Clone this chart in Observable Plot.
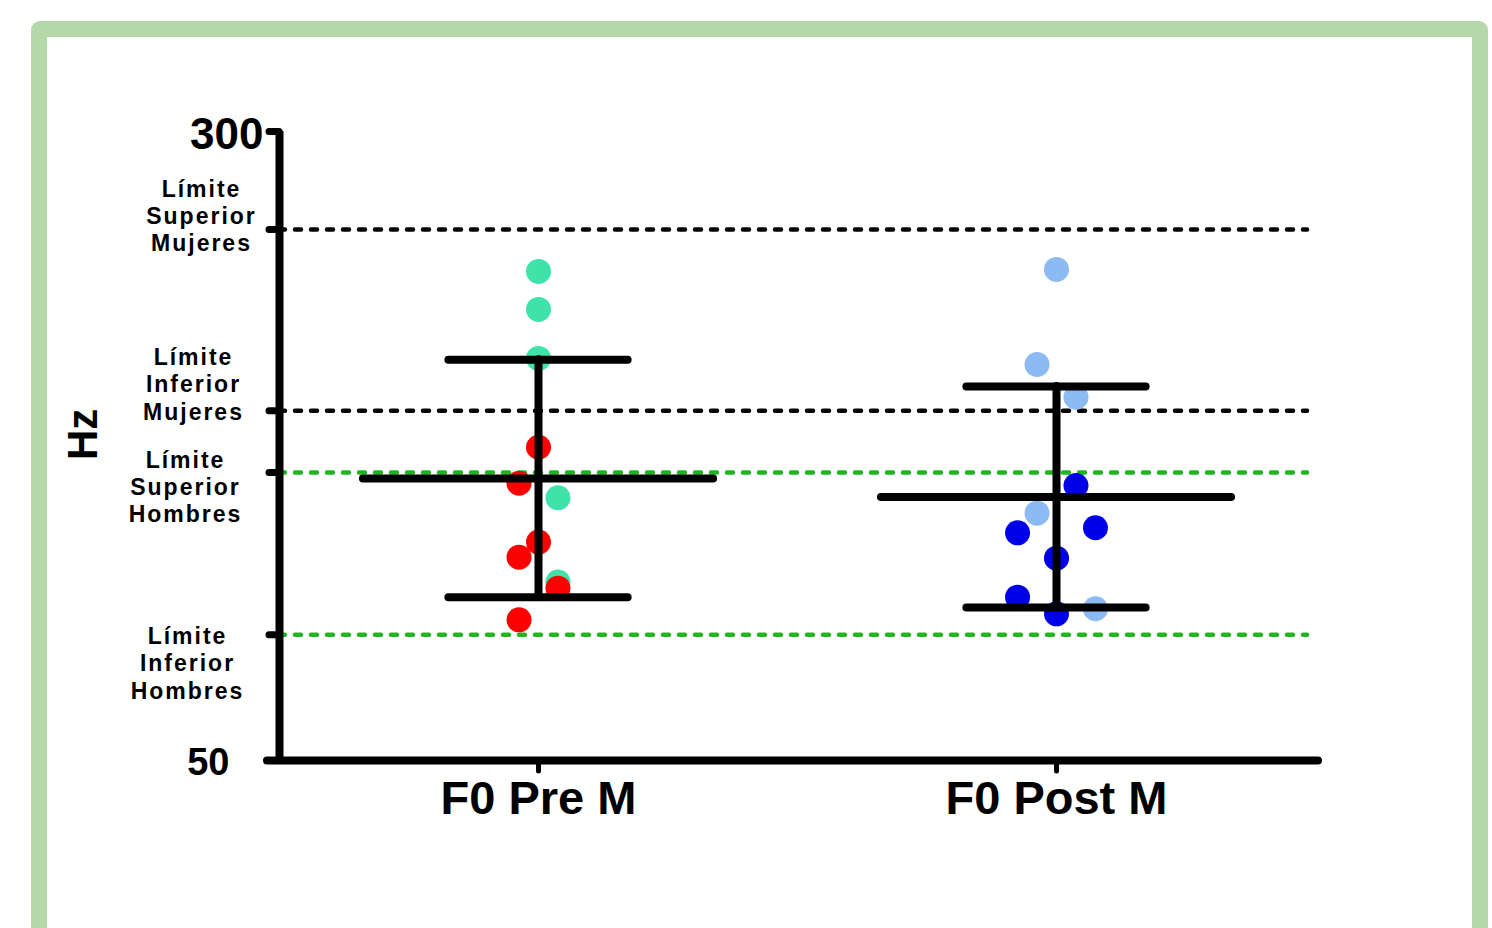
<!DOCTYPE html>
<html>
<head>
<meta charset="utf-8">
<script src="https://cdn.jsdelivr.net/npm/d3@7"></script>
<script src="https://cdn.jsdelivr.net/npm/@observablehq/plot@0.6"></script>
<style>
  html, body { margin: 0; padding: 0; background: #fff; width: 1492px; height: 928px; overflow: hidden; }
  #frame { position: absolute; left: 31px; top: 21px; width: 1457px; height: 1000px; box-sizing: border-box;
           border: 16px solid #b5d8a8; border-radius: 9px; }
  #chart { position: absolute; left: 0; top: 0; }
</style>
</head>
<body>
<div id="frame"></div>
<div id="chart"></div>
<script>
// ---- data ----
const groups = ["F0 Pre M", "F0 Post M"];

// Pre M: light (teal) and dark (red) points, with swarm column index
const preLightHz   = [244.4, 229.3, 209.8, 154.4, 120.9];
const preLightCol  = [0, 0, 0, 1, 1];
const preDarkHz    = [174.5, 160.2, 136.8, 130.8, 118.5, 105.9];
const preDarkCol   = [0, -1, 0, -1, 1, -1];

// Post M: light blue and blue points
const postLightHz  = [245.2, 207.4, 194.4, 148.3, 110.3];
const postLightCol = [0, -1, 1, -1, 2];
const postDarkHz   = [159.3, 142.5, 140.5, 130.4, 114.9, 108.3];
const postDarkCol  = [1, 2, -2, 0, -2, 0];

// mean and SD per group
const means = [162.1, 154.7];
const sds   = [47.2, 43.9];

// reference limits
const limitValues = [261, 189, 164.5, 100];
const limitLabels = ["Límite\nSuperior\nMujeres", "Límite\nInferior\nMujeres", "Límite\nSuperior\nHombres", "Límite\nInferior\nHombres"];
const limitKind   = ["Mujeres", "Mujeres", "Hombres", "Hombres"];

const yTickLabels = [300, 50];

// ---- build tables ----
const seriesColors = {preLight: "#3fe3a9", preDark: "#ff0000", postLight: "#8cbaf2", postDark: "#0000e6"};
const points = [];
function add(vals, cols, g, key) {
  vals.forEach((v, i) => points.push({group: g, hz: v, col: cols[i], key}));
}
add(preLightHz, preLightCol, 1, "preLight");
add(preDarkHz, preDarkCol, 1, "preDark");
add(postLightHz, postLightCol, 2, "postLight");
add(postDarkHz, postDarkCol, 2, "postDark");

const stats = groups.map((g, i) => ({g: i + 1, mean: means[i], sd: sds[i]}));
const limits = limitValues.map((v, i) => ({v, label: limitLabels[i], kind: limitKind[i]}));

const step = 0.0376;      // swarm column spacing (x units)
const meanHalf = 0.338;   // half width of mean line
const capHalf = 0.173;    // half width of SD caps
const font = "'Liberation Sans', Arial, sans-serif";

// label placement per limit (styling)
const labelDx = [-78, -86, -94, -92];
const labelDy = [-14, -27, 14, 28];

const marks = [
  // reference dashed lines
  Plot.ruleY(limits, {y: "v", stroke: d => d.kind === "Mujeres" ? "#000" : "#1fb51f",
    strokeWidth: 4.5, strokeDasharray: "6,10", strokeLinecap: "round", insetRight: 8}),
  // points
  Plot.dot(points, {x: d => d.group + d.col * step, y: "hz", r: 12.5,
    fill: d => seriesColors[d.key], stroke: null}),
  // error bars
  Plot.ruleX(stats, {x: "g", y1: d => d.mean - d.sd, y2: d => d.mean + d.sd, strokeWidth: 8, strokeLinecap: "round"}),
  Plot.ruleY(stats, {y: "mean", x1: d => d.g - meanHalf, x2: d => d.g + meanHalf, strokeWidth: 8, strokeLinecap: "round"}),
  Plot.ruleY(stats, {y: d => d.mean + d.sd, x1: d => d.g - capHalf, x2: d => d.g + capHalf, strokeWidth: 8, strokeLinecap: "round"}),
  Plot.ruleY(stats, {y: d => d.mean - d.sd, x1: d => d.g - capHalf, x2: d => d.g + capHalf, strokeWidth: 8, strokeLinecap: "round"}),
  // axis lines
  Plot.axisY({ticks: [...yTickLabels, ...limitValues], tickSize: 10, strokeWidth: 7, strokeLinecap: "round",
    tickFormat: () => "", label: null}),
  Plot.axisX({ticks: [1, 2], tickSize: 11, strokeWidth: 5, strokeLinecap: "round",
    tickFormat: i => groups[i - 1], tickPadding: 9, fontSize: 47, fontWeight: "bold", label: null}),
  Plot.ruleX([0.5], {y1: 50, y2: 300, strokeWidth: 8}),
  Plot.ruleY([50], {strokeWidth: 8, strokeLinecap: "round", insetLeft: -12, insetRight: -3}),
  // y tick labels
  Plot.text([yTickLabels[0]], {y: d => d, text: d => String(d), frameAnchor: "left", textAnchor: "end",
    dx: -16, dy: 3, fontSize: 44, fontWeight: "bold"}),
  Plot.text([yTickLabels[1]], {y: d => d, text: d => String(d), frameAnchor: "left", textAnchor: "end",
    dx: -50, dy: 2, fontSize: 38, fontWeight: "bold"}),
  // Hz label
  Plot.text(["Hz"], {text: d => d, frameAnchor: "left", rotate: -90, dx: -196, dy: 14,
    fontSize: 42, fontWeight: "bold"}),
  // limit labels
  ...limits.map((d, i) => Plot.text([d], {y: "v", text: "label", frameAnchor: "left", textAnchor: "middle",
    lineAnchor: "middle", lineHeight: 1.18, dx: labelDx[i], dy: labelDy[i], fontSize: 23, fontWeight: "bold"}))
];

const chart = Plot.plot({
  width: 1492,
  height: 928,
  marginLeft: 279,
  marginRight: 177,
  marginTop: 131,
  marginBottom: 168,
  x: {type: "linear", domain: [0.5, 2.5], axis: null},
  y: {type: "linear", domain: [50, 300], axis: null},
  style: {fontFamily: font, background: "transparent", color: "#000", overflow: "visible"},
  marks
});
d3.select(chart).selectAll("text")
  .filter(function() { return this.textContent.includes("Límite"); })
  .style("letter-spacing", "2px");
document.getElementById("chart").appendChild(chart);
</script>
</body>
</html>
